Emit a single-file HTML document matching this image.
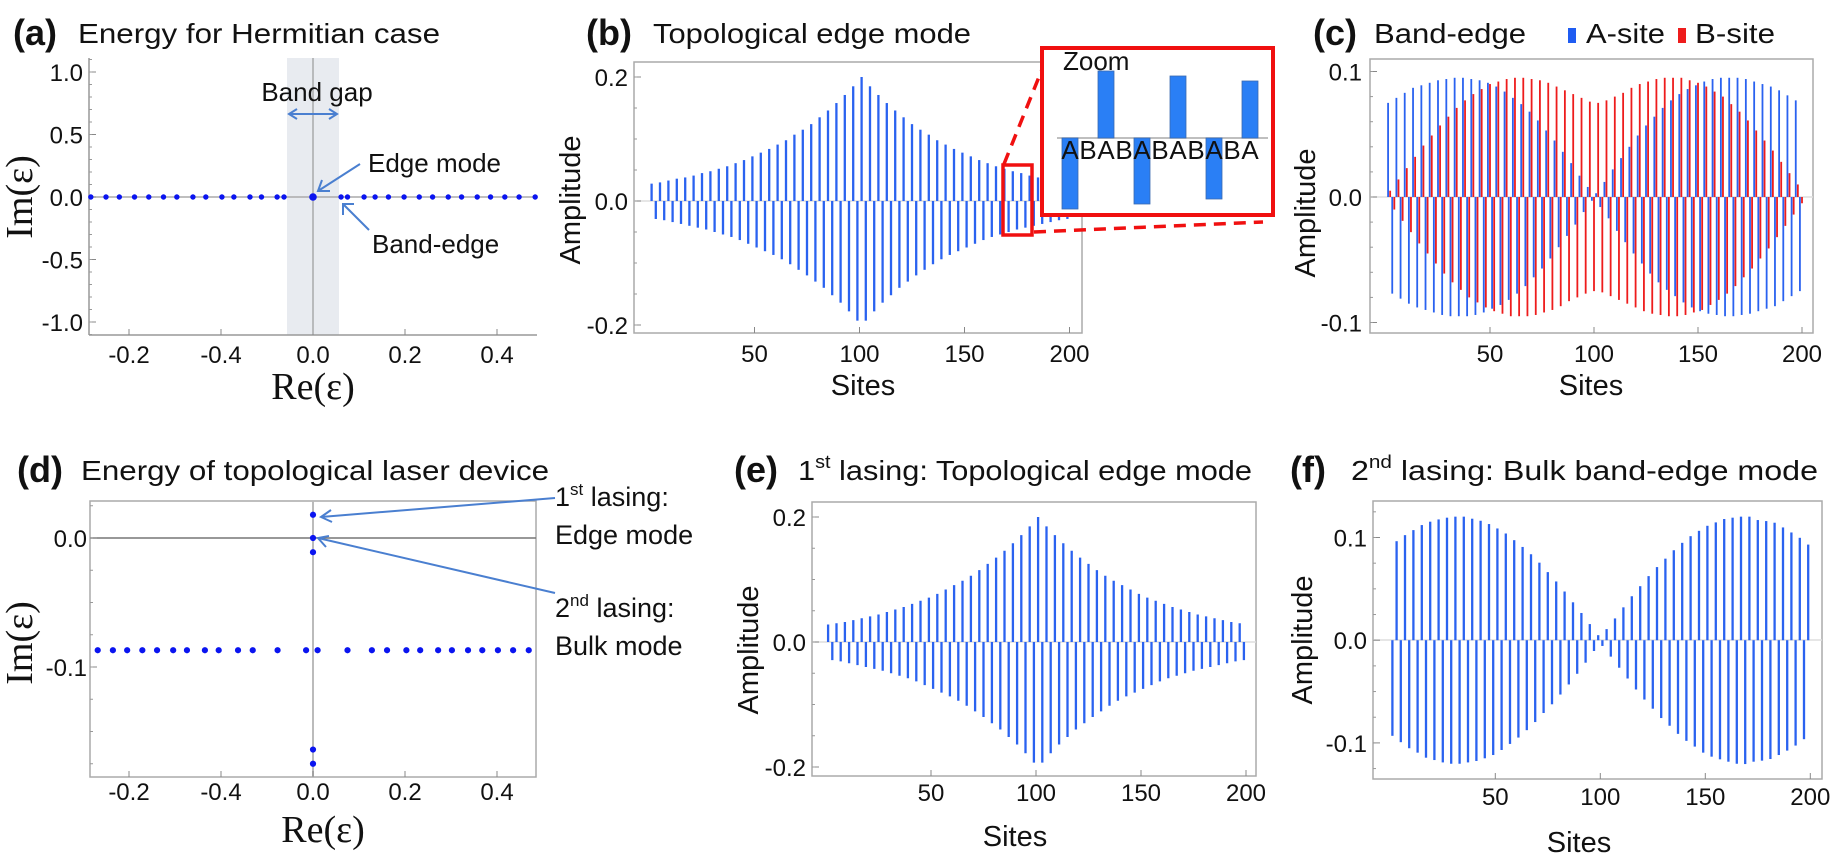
<!DOCTYPE html>
<html><head><meta charset="utf-8"><style>
html,body{margin:0;padding:0;background:#fff;}
svg{display:block;font-family:"Liberation Sans",Arial,sans-serif;}
.t{font-size:28px;fill:#111;}
.tb{font-size:36px;font-weight:bold;fill:#111;}
.tk{font-size:24px;fill:#111;}
.an{font-size:26px;fill:#111;}
.ad{font-size:27px;fill:#111;}
.ax{font-size:29px;fill:#111;}
.se{font-family:"Liberation Serif",serif;font-size:38px;fill:#111;}
</style></head><body>
<svg id="fig" width="1832" height="859" viewBox="0 0 1832 859" xmlns="http://www.w3.org/2000/svg">
<!-- titles -->
<text class="tb" x="13" y="45">(a)</text>
<text class="t" x="78" y="43" textLength="362" lengthAdjust="spacingAndGlyphs">Energy for Hermitian case</text>
<text class="tb" x="586" y="45">(b)</text>
<text class="t" x="653" y="43" textLength="318" lengthAdjust="spacingAndGlyphs">Topological edge mode</text>
<text class="tb" x="1313" y="45">(c)</text>
<text class="t" x="1374" y="43" textLength="152" lengthAdjust="spacingAndGlyphs">Band-edge</text>
<rect x="1568" y="28" width="8" height="15" fill="#1f5cf2"/>
<text class="t" x="1586" y="43" textLength="79" lengthAdjust="spacingAndGlyphs">A-site</text>
<rect x="1678" y="28" width="8" height="15" fill="#ee1c1c"/>
<text class="t" x="1695" y="43" textLength="80" lengthAdjust="spacingAndGlyphs">B-site</text>
<text class="tb" x="17" y="482">(d)</text>
<text class="t" x="81" y="480" textLength="468" lengthAdjust="spacingAndGlyphs">Energy of topological laser device</text>
<text class="tb" x="734" y="482">(e)</text>
<text class="t" x="798" y="480" textLength="454" lengthAdjust="spacingAndGlyphs">1<tspan font-size="18" dy="-12">st</tspan><tspan dy="12"> lasing: Topological edge mode</tspan></text>
<text class="tb" x="1290" y="482">(f)</text>
<text class="t" x="1351" y="480" textLength="467" lengthAdjust="spacingAndGlyphs">2<tspan font-size="18" dy="-12">nd</tspan><tspan dy="12"> lasing: Bulk band-edge mode</tspan></text>

<!-- panel a static -->
<rect x="287" y="58" width="52" height="277" fill="#e8ebf0"/>
<line x1="313" y1="58" x2="313" y2="335" stroke="#888" stroke-width="1"/>
<line x1="89" y1="197" x2="537" y2="197" stroke="#aaa" stroke-width="1.5"/>
<line x1="89" y1="58" x2="89" y2="335" stroke="#999" stroke-width="1.5"/>
<line x1="89" y1="335" x2="537" y2="335" stroke="#999" stroke-width="1.5"/>
<text class="se" transform="translate(32,197) rotate(-90)" text-anchor="middle">Im(ε)</text>
<text class="se" x="313" y="399" text-anchor="middle">Re(ε)</text>
<text class="an" x="317" y="101" text-anchor="middle">Band gap</text>
<g stroke="#4a7fd0" stroke-width="2" fill="none">
<line x1="289" y1="114" x2="337" y2="114"/><polyline points="297,109 289,114 297,119"/><polyline points="329,109 337,114 329,119"/></g>
<text class="an" x="368" y="172">Edge mode</text>
<g stroke="#4a7fd0" stroke-width="2" fill="none">
<line x1="360" y1="164" x2="318" y2="191"/><polyline points="322,180 318,191 330,191"/></g>
<text class="an" x="372" y="253">Band-edge</text>
<g stroke="#4a7fd0" stroke-width="2" fill="none">
<line x1="369" y1="230" x2="343" y2="204"/><polyline points="343,215 343,204 354,204"/></g>

<!-- panel b static -->
<rect x="634" y="62" width="448" height="271" fill="none" stroke="#aaa" stroke-width="1.5"/>
<line x1="634" y1="201" x2="1082" y2="201" stroke="#ddd" stroke-width="1.5"/>
<text class="ax" transform="translate(580,200) rotate(-90)" text-anchor="middle">Amplitude</text>
<text class="ax" x="863" y="395" text-anchor="middle">Sites</text>
<g id="gb"></g>
<g id="inset"></g>

<!-- panel c static -->
<rect x="1370" y="59" width="443" height="274" fill="none" stroke="#aaa" stroke-width="1.5"/>
<line x1="1370" y1="197" x2="1813" y2="197" stroke="#ddd" stroke-width="1.5"/>
<text class="ax" transform="translate(1315,213) rotate(-90)" text-anchor="middle">Amplitude</text>
<text class="ax" x="1591" y="395" text-anchor="middle">Sites</text>
<g id="gc"></g>

<!-- panel d static -->
<rect x="90" y="501" width="446" height="276" fill="none" stroke="#aaa" stroke-width="1.5"/>
<line x1="313" y1="501" x2="313" y2="777" stroke="#bbb" stroke-width="2"/>
<line x1="90" y1="538" x2="536" y2="538" stroke="#777" stroke-width="1.5"/>
<text class="se" transform="translate(32,643) rotate(-90)" text-anchor="middle">Im(ε)</text>
<text class="se" x="323" y="842" text-anchor="middle">Re(ε)</text>
<text class="ad" x="555" y="506">1<tspan font-size="17" dy="-11">st</tspan><tspan dy="11"> lasing:</tspan></text>
<text class="ad" x="555" y="544">Edge mode</text>
<text class="ad" x="555" y="617">2<tspan font-size="17" dy="-11">nd</tspan><tspan dy="11"> lasing:</tspan></text>
<text class="ad" x="555" y="655">Bulk mode</text>
<g stroke="#4a7fd0" stroke-width="2" fill="none">
<line x1="555" y1="498" x2="321" y2="517"/><polyline points="331,510 321,517 332,522"/></g>
<g stroke="#4a7fd0" stroke-width="2" fill="none">
<line x1="555" y1="593" x2="318" y2="538"/><polyline points="326,547 318,538 329,536"/></g>

<!-- panel e static -->
<rect x="812" y="502" width="444" height="274" fill="none" stroke="#aaa" stroke-width="1.5"/>
<line x1="812" y1="642" x2="1256" y2="642" stroke="#ddd" stroke-width="1.5"/>
<text class="ax" transform="translate(758,650) rotate(-90)" text-anchor="middle">Amplitude</text>
<text class="ax" x="1015" y="846" text-anchor="middle">Sites</text>
<g id="ge"></g>

<!-- panel f static -->
<rect x="1373" y="501" width="449" height="278" fill="none" stroke="#aaa" stroke-width="1.5"/>
<line x1="1373" y1="640" x2="1822" y2="640" stroke="#ddd" stroke-width="1.5"/>
<text class="ax" transform="translate(1312,640) rotate(-90)" text-anchor="middle">Amplitude</text>
<text class="ax" x="1579" y="852" text-anchor="middle">Sites</text>
<g id="gf"></g>
<g id="ga"></g>
<g id="gd"></g>
</svg>
<script>
// ---------- data ----------
// panel a: eigenvalues (Hermitian)
const aRe = [-0.483,-0.450,-0.421,-0.388,-0.357,-0.325,-0.296,-0.261,-0.233,-0.198,-0.172,-0.137,-0.112,-0.078,-0.063,0.061,0.075,0.111,0.135,0.164,0.198,0.231,0.260,0.294,0.323,0.357,0.386,0.417,0.448,0.483];
const aIm = [0,0,0,0,0,0,0,0,0,0,0,0,0,0,0,0,0,0,0,0,0,0,0,0,0,0,0,0,0,0];
const aEdgeRe = [0];
const aEdgeIm = [0];
const aXTickVals = [-0.4,-0.2,0,0.2,0.4];
const aXTickLabels = ["-0.2","-0.4","0.0","0.2","0.4"];
const aYTickVals = [-1,-0.5,0,0.5,1];
const aYTickLabels = ["-1.0","-0.5","0.0","0.5","1.0"];
// panel b: topological edge mode
const bUpSites = [1,5,9,13,17,21,25,29,33,37,41,45,49,53,57,61,65,69,73,77,81,85,89,93,97,101,105,109,113,117,121,125,129,133,137,141,145,149,153,157,161,165,169,173,177,181,185,189,193,197];
const bUpVals = [0.028,0.030,0.033,0.036,0.038,0.041,0.045,0.048,0.052,0.056,0.061,0.066,0.072,0.078,0.084,0.091,0.098,0.107,0.115,0.124,0.135,0.146,0.158,0.171,0.185,0.200,0.185,0.171,0.158,0.146,0.135,0.124,0.115,0.107,0.098,0.091,0.084,0.078,0.072,0.066,0.061,0.056,0.052,0.048,0.045,0.041,0.038,0.036,0.033,0.030];
const bDownSites = [3,7,11,15,19,23,27,31,35,39,43,47,51,55,59,63,67,71,75,79,83,87,91,95,99,103,107,111,115,119,123,127,131,135,139,143,147,151,155,159,163,167,171,175,179,183,187,191,195,199];
const bDownVals = [-0.029,-0.031,-0.034,-0.037,-0.040,-0.043,-0.046,-0.050,-0.054,-0.058,-0.063,-0.069,-0.075,-0.081,-0.087,-0.094,-0.102,-0.111,-0.120,-0.130,-0.140,-0.152,-0.164,-0.178,-0.193,-0.193,-0.178,-0.164,-0.152,-0.140,-0.130,-0.120,-0.111,-0.102,-0.094,-0.087,-0.081,-0.075,-0.069,-0.063,-0.058,-0.054,-0.050,-0.046,-0.043,-0.040,-0.037,-0.034,-0.031,-0.029];
const bYTickVals = [-0.2,0,0.2];
const bYTickLabels = ["-0.2","0.0","0.2"];
const siteTickVals = [50,100,150,200];
const siteTickLabels = ["50","100","150","200"];
// inset (zoom) bars
const insetLetters = ["A","B","A","B","A","B","A","B","A","B","A"];
const insetBarIdx = [0,2,4,6,8,10];
const insetVals = [-0.071,0.067,-0.066,0.062,-0.061,0.057];
// panel c: band-edge mode, A (odd sites) and B (even sites)
const cAVals = [0.075,-0.077,0.079,-0.081,0.083,-0.085,0.087,-0.088,0.089,-0.090,0.091,-0.092,0.093,-0.094,0.094,-0.095,0.095,-0.095,0.095,-0.095,0.094,-0.094,0.093,-0.092,0.091,-0.089,0.088,-0.086,0.084,-0.082,0.079,-0.077,0.074,-0.071,0.068,-0.064,0.061,-0.057,0.053,-0.049,0.045,-0.040,0.036,-0.031,0.027,-0.022,0.017,-0.012,0.008,-0.003,
 0.003,-0.008,0.012,-0.017,0.022,-0.027,0.031,-0.036,0.040,-0.045,0.049,-0.053,0.057,-0.061,0.064,-0.068,0.071,-0.074,0.077,-0.079,0.082,-0.084,0.086,-0.088,0.089,-0.091,0.092,-0.093,0.094,-0.094,0.095,-0.095,0.095,-0.095,0.095,-0.094,0.094,-0.093,0.092,-0.091,0.090,-0.089,0.088,-0.087,0.085,-0.083,0.081,-0.079,0.077,-0.075];
const cBVals = [0.005,-0.010,0.014,-0.019,0.023,-0.028,0.032,-0.037,0.041,-0.045,0.049,-0.053,0.057,-0.061,0.064,-0.068,0.071,-0.074,0.077,-0.080,0.082,-0.084,0.086,-0.088,0.090,-0.091,0.092,-0.093,0.094,-0.095,0.095,-0.095,0.095,-0.095,0.094,-0.094,0.093,-0.092,0.091,-0.090,0.088,-0.087,0.085,-0.083,0.082,-0.080,0.079,-0.077,0.076,-0.075,
 0.075,-0.076,0.077,-0.079,0.080,-0.082,0.083,-0.085,0.087,-0.088,0.090,-0.091,0.092,-0.093,0.094,-0.094,0.095,-0.095,0.095,-0.095,0.095,-0.094,0.093,-0.092,0.091,-0.090,0.088,-0.086,0.084,-0.082,0.080,-0.077,0.074,-0.071,0.068,-0.064,0.061,-0.057,0.053,-0.049,0.045,-0.041,0.037,-0.032,0.028,-0.023,0.019,-0.014,0.010,-0.005];
const cYTickVals = [-0.1,0,0.1];
const cYTickLabels = ["-0.1","0.0","0.1"];
// panel d: laser device eigenvalues
const dBulkRe = [-0.468,-0.435,-0.404,-0.371,-0.339,-0.304,-0.274,-0.235,-0.205,-0.163,-0.131,-0.077,-0.015,0.010,0.075,0.128,0.161,0.203,0.233,0.272,0.302,0.337,0.368,0.402,0.435,0.469];
const dBulkIm = [-0.087,-0.087,-0.087,-0.087,-0.087,-0.087,-0.087,-0.087,-0.087,-0.087,-0.087,-0.087,-0.087,-0.087,-0.087,-0.087,-0.087,-0.087,-0.087,-0.087,-0.087,-0.087,-0.087,-0.087,-0.087,-0.087];
const dEdgeRe = [0,0,0,0,0];
const dEdgeIm = [0.018,0,-0.011,-0.164,-0.175];
const dYTickVals = [-0.1,0];
const dYTickLabels = ["-0.1","0.0"];
// panel e: 1st lasing edge mode
const eUpVals = [0.028,0.030,0.032,0.035,0.038,0.041,0.044,0.048,0.052,0.056,0.061,0.066,0.071,0.077,0.084,0.091,0.098,0.106,0.115,0.125,0.135,0.146,0.158,0.171,0.185,0.200,0.185,0.171,0.158,0.146,0.135,0.125,0.115,0.106,0.098,0.091,0.084,0.077,0.071,0.066,0.061,0.056,0.052,0.048,0.044,0.041,0.038,0.035,0.032,0.030];
const eDownVals = [-0.029,-0.031,-0.034,-0.037,-0.040,-0.043,-0.046,-0.050,-0.054,-0.058,-0.063,-0.069,-0.075,-0.081,-0.087,-0.094,-0.102,-0.111,-0.120,-0.130,-0.140,-0.152,-0.164,-0.178,-0.193,-0.193,-0.178,-0.164,-0.152,-0.140,-0.130,-0.120,-0.111,-0.102,-0.094,-0.087,-0.081,-0.075,-0.069,-0.063,-0.058,-0.054,-0.050,-0.046,-0.043,-0.040,-0.037,-0.034,-0.031,-0.029];
// panel f: 2nd lasing bulk band-edge mode
const fUpVals = [0.0964,0.1023,0.1072,0.1121,0.1154,0.1176,0.1193,0.1203,0.1203,0.1183,0.1163,0.1131,0.1088,0.1039,0.0974,0.0908,0.0837,0.0755,0.0663,0.0572,0.0474,0.0369,0.0265,0.0157,0.0049,0.0108,0.0212,0.0320,0.0428,0.0526,0.0624,0.0712,0.0794,0.0876,0.0948,0.1013,0.1065,0.1114,0.1147,0.1180,0.1193,0.1203,0.1203,0.1170,0.1160,0.1144,0.1098,0.1049,0.0997,0.0931];
const fDownVals = [-0.0931,-0.0993,-0.1052,-0.1095,-0.1144,-0.1167,-0.1190,-0.1203,-0.1203,-0.1190,-0.1176,-0.1150,-0.1118,-0.1069,-0.1010,-0.0948,-0.0876,-0.0797,-0.0709,-0.0624,-0.0529,-0.0431,-0.0327,-0.0219,-0.0105,-0.0056,-0.0160,-0.0268,-0.0373,-0.0480,-0.0578,-0.0667,-0.0758,-0.0833,-0.0912,-0.0980,-0.1036,-0.1095,-0.1134,-0.1160,-0.1183,-0.1203,-0.1206,-0.1183,-0.1173,-0.1157,-0.1118,-0.1075,-0.1026,-0.0964];
const fUpSites = [3,7,11,15,19,23,27,31,35,39,43,47,51,55,59,63,67,71,75,79,83,87,91,95,99,103,107,111,115,119,123,127,131,135,139,143,147,151,155,159,163,167,171,175,179,183,187,191,195,199];
const fDownSites = [1,5,9,13,17,21,25,29,33,37,41,45,49,53,57,61,65,69,73,77,81,85,89,93,97,101,105,109,113,117,121,125,129,133,137,141,145,149,153,157,161,165,169,173,177,181,185,189,193,197];
const fYTickVals = [-0.1,0,0.1];
const fYTickLabels = ["-0.1","0.0","0.1"];

// ---------- axes ----------
const NS = 'http://www.w3.org/2000/svg';
const xa = v => 313 + v*460, ya = v => 197 - v*125;
const xd = v => 313 + v*460, yd = v => 538 - v*1290;
const xb = s => 649.5 + s*2.1, yb = v => 201 - v*620;
const xc = s => 1386 + s*2.08, yc = v => 197 - v*1255;
const xe = s => 826 + s*2.1, ye = v => 642 - v*625;
const xf = s => 1390.3 + s*2.1, yf = v => 640.2 - v*1027;

function mk(tag, attrs, parent){
  const e = document.createElementNS(NS, tag);
  for (const k in attrs) e.setAttribute(k, attrs[k]);
  parent.appendChild(e);
  return e;
}
function yTicks(g, vals, labels, xAxis, yFn, labelX, minorStep, yMin, yMax){
  vals.forEach((v,i)=>{
    const t = mk('line',{x1:xAxis,y1:yFn(v),x2:xAxis+7,y2:yFn(v),stroke:'#888','stroke-width':1},g);
    
    
    const l = mk('text',{x:labelX,y:yFn(v)+9,'text-anchor':'end','class':'tk'},g);
    l.textContent = labels[i];
    
    
  });
  for (let v=yMin; v<=yMax+1e-9; v+=minorStep){
    const m = mk('line',{x1:xAxis,y1:yFn(v),x2:xAxis+3,y2:yFn(v),stroke:'#999','stroke-width':1},g);
    
    
  }
}
function xTicks(g, vals, labels, yAxis, xFn, labelY){
  vals.forEach((v,i)=>{
    const t = mk('line',{x1:xFn(v),y1:yAxis,x2:xFn(v),y2:yAxis-6,stroke:'#888','stroke-width':1},g);
    
    
    const l = mk('text',{x:xFn(v),y:labelY,'text-anchor':'middle','class':'tk'},g);
    l.textContent = labels[i];
    
    
  });
}
function bars(g, sites, vals, xFn, yFn, w, color, name){
  sites.forEach((s,i)=>{
    const y0 = yFn(0), y1 = yFn(vals[i]);
    const r = mk('rect',{x:xFn(s)-w/2,y:Math.min(y0,y1),width:w,height:Math.abs(y1-y0),fill:color},g);
    
    
  });
}
function dots(g, re, im, xFn, yFn, r, name){
  re.forEach((v,i)=>{
    const c = mk('circle',{cx:xFn(v),cy:yFn(im[i]),r:r,fill:'#0a14f0'},g);
    
    
  });
}
const BLUE = '#2a62f0', RED = '#ee1c1c';

// panel a
const ga = document.getElementById('ga');
yTicks(ga, aYTickVals, aYTickLabels, 89, ya, 83, 0.1, -1.1, 1.1);
xTicks(ga, aXTickVals, aXTickLabels, 335, xa, 363);
dots(ga, aRe, aIm, xa, ya, 2.7, 'eigenvalue-dot');
dots(ga, aEdgeRe, aEdgeIm, xa, ya, 3.8, 'edge-mode-dot');

// panel b
const gb = document.getElementById('gb');
yTicks(gb, bYTickVals, bYTickLabels, 634, yb, 628, 0.05, -0.2, 0.2);
xTicks(gb, siteTickVals, siteTickLabels, 333, xb, 362);
bars(gb, bUpSites, bUpVals, xb, yb, 2.3, BLUE, 'b-bar-up');
bars(gb, bDownSites, bDownVals, xb, yb, 2.3, BLUE, 'b-bar-down');
const hb = mk('rect',{x:1003,y:165,width:29,height:70,fill:'none',stroke:'#f01010','stroke-width':3.5},gb);


const d1 = mk('line',{x1:1004,y1:164,x2:1047,y2:57,stroke:'#f01010','stroke-width':3.5,'stroke-dasharray':'12,8'},gb);


const d2 = mk('line',{x1:1034,y1:232,x2:1263,y2:222,stroke:'#f01010','stroke-width':3.5,'stroke-dasharray':'12,8'},gb);


// inset
const gi = document.getElementById('inset');
const ib = mk('rect',{x:1042,y:48,width:231,height:167,fill:'#fff',stroke:'#f01010','stroke-width':4},gi);


const il = mk('line',{x1:1057,y1:138,x2:1268,y2:138,stroke:'#aaa','stroke-width':1.5},gi);


const xi = k => 1070 + k*18, yi = v => 138 - v*1000;
insetBarIdx.forEach((k,i)=>{
  const y1 = yi(insetVals[i]);
  const r = mk('rect',{x:xi(k)-8,y:Math.min(138,y1),width:16,height:Math.abs(y1-138),fill:'#2a7ff5',stroke:'#3a6ab0','stroke-width':0.8},gi);
  
  
});
insetLetters.forEach((c,k)=>{
  const t = mk('text',{x:xi(k),y:159,'text-anchor':'middle','font-size':26,fill:'#111'},gi);
  t.textContent = c;
  
  
});
const zt = mk('text',{x:1063,y:70,'font-size':26,fill:'#111'},gi);
zt.textContent = 'Zoom';



// panel c
const gc = document.getElementById('gc');
yTicks(gc, cYTickVals, cYTickLabels, 1370, yc, 1362, 0.02, -0.1, 0.1);
xTicks(gc, siteTickVals, siteTickLabels, 333, xc, 362);
const cASites = cAVals.map((v,i)=>1+2*i);
const cBSites = cBVals.map((v,i)=>2+2*i);
bars(gc, cASites, cAVals, xc, yc, 1.8, BLUE, 'c-bar-a-site');
bars(gc, cBSites, cBVals, xc, yc, 1.8, RED, 'c-bar-b-site');

// panel d
const gd = document.getElementById('gd');
yTicks(gd, dYTickVals, dYTickLabels, 90, yd, 87, 0.025, -0.175, 0.025);
xTicks(gd, aXTickVals, aXTickLabels, 777, xd, 800);
dots(gd, dBulkRe, dBulkIm, xd, yd, 3.1, 'bulk-eigenvalue-dot');
dots(gd, dEdgeRe, dEdgeIm, xd, yd, 3.1, 'edge-eigenvalue-dot');

// panel e
const ge = document.getElementById('ge');
yTicks(ge, bYTickVals, bYTickLabels, 812, ye, 806, 0.05, -0.2, 0.2);
xTicks(ge, siteTickVals, siteTickLabels, 776, xe, 801);
bars(ge, bUpSites, eUpVals, xe, ye, 2.3, BLUE, 'e-bar-up');
bars(ge, bDownSites, eDownVals, xe, ye, 2.3, BLUE, 'e-bar-down');

// panel f
const gf = document.getElementById('gf');
yTicks(gf, fYTickVals, fYTickLabels, 1373, yf, 1367, 0.025, -0.125, 0.125);
xTicks(gf, siteTickVals, siteTickLabels, 779, xf, 805);
bars(gf, fUpSites, fUpVals, xf, yf, 2.3, BLUE, 'f-bar-up');
bars(gf, fDownSites, fDownVals, xf, yf, 2.3, BLUE, 'f-bar-down');
</script>
</body></html>
